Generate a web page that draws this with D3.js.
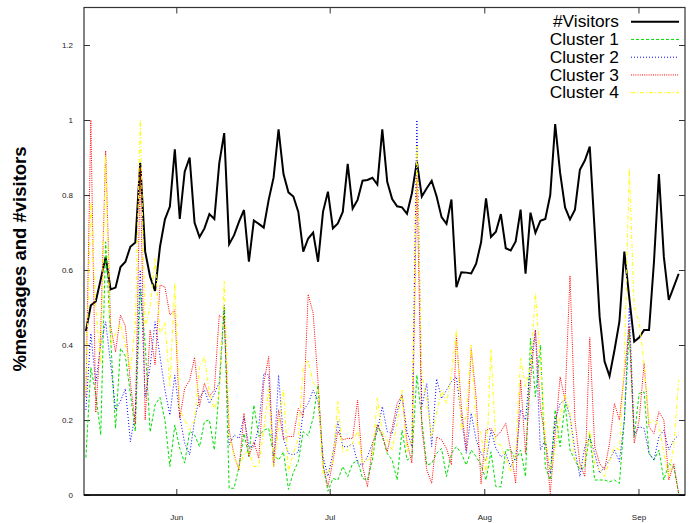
<!DOCTYPE html>
<html lang="en">
  <head>
    <meta charset="UTF-8" />
    <title>messages and visitors</title>
    <script src="https://d3js.org/d3.v7.min.js"></script>
    <style>
      body { margin: 0; background: #fff; }
      text { font-family: "Liberation Sans", Arial, sans-serif; }
      .tick text { font-size: 8px; fill: #222; }
      .tick line { stroke: #333; stroke-width: 1; }
      .series { fill: none; }
    </style>
  </head>
  <body>
    <svg id="canvas" width="693" height="523"></svg>

    <script>
      // daily values, first day = index 0
      const visitors = [0.437, 0.506, 0.516, 0.575, 0.634, 0.548, 0.553, 0.608, 0.622, 0.662,
        0.673, 0.886, 0.649, 0.582, 0.544, 0.662, 0.735, 0.769, 0.922, 0.736,
        0.862, 0.900, 0.726, 0.688, 0.711, 0.749, 0.736, 0.885, 0.965, 0.669,
        0.693, 0.729, 0.760, 0.622, 0.732, 0.723, 0.713, 0.787, 0.847, 0.975,
        0.856, 0.807, 0.796, 0.755, 0.649, 0.684, 0.700, 0.622, 0.755, 0.809,
        0.711, 0.724, 0.755, 0.883, 0.764, 0.787, 0.838, 0.840, 0.846, 0.828,
        0.975, 0.835, 0.789, 0.770, 0.767, 0.750, 0.805, 0.889, 0.796, 0.818,
        0.838, 0.796, 0.741, 0.723, 0.788, 0.554, 0.594, 0.593, 0.591, 0.617,
        0.674, 0.791, 0.688, 0.702, 0.749, 0.658, 0.652, 0.676, 0.761, 0.590,
        0.753, 0.699, 0.731, 0.736, 0.800, 0.989, 0.859, 0.767, 0.735, 0.761,
        0.867, 0.892, 0.929, 0.703, 0.475, 0.356, 0.317, 0.386, 0.462, 0.649,
        0.526, 0.409, 0.420, 0.440, 0.440, 0.622, 0.856, 0.635, 0.520, 0.555,
        0.590];

      const cluster1 = [0.10, 0.34, 0.27, 0.16, 0.675, 0.42, 0.178, 0.391, 0.37, 0.27,
        0.17, 0.55, 0.40, 0.168, 0.24, 0.26, 0.20, 0.076, 0.187, 0.124,
        0.085, 0.17, 0.16, 0.129, 0.196, 0.20, 0.12, 0.284, 0.50, 0.018,
        0.018, 0.076, 0.164, 0.102, 0.24, 0.156, 0.173, 0.178, 0.107, 0.093,
        0.115, 0.015, 0.06, 0.09, 0.169, 0.158, 0.205, 0.293, 0.08, 0.01,
        0.044, 0.04, 0.076, 0.049, 0.084, 0.093, 0.044, 0.04, 0.093, 0.187,
        0.156, 0.111, 0.093, 0.04, 0.173, 0.093, 0.102, 0.32, 0.20, 0.08,
        0.084, 0.111, 0.124, 0.049, 0.111, 0.129, 0.111, 0.08, 0.12, 0.102,
        0.08, 0.04, 0.115, 0.022, 0.022, 0.12, 0.12, 0.093, 0.12, 0.049,
        0.418, 0.262, 0.40, 0.075, 0.04, 0.227, 0.129, 0.244, 0.12, 0.093,
        0.067, 0.075, 0.164, 0.04, 0.04, 0.04, 0.035, 0.04, 0.031, 0.20,
        0.44, 0.155, 0.271, 0.275, 0.111, 0.093, 0.12, 0.04, 0.084, 0.075,
        0.004];

      const cluster2 = [0.227, 0.431, 0.298, 0.40, 0.462, 0.351, 0.227, 0.25, 0.284, 0.142,
        0.218, 0.60, 0.262, 0.342, 0.462, 0.37, 0.28, 0.213, 0.32, 0.21,
        0.138, 0.107, 0.20, 0.26, 0.28, 0.244, 0.27, 0.30, 0.507, 0.133,
        0.16, 0.151, 0.209, 0.129, 0.129, 0.182, 0.324, 0.32, 0.076, 0.32,
        0.15, 0.111, 0.107, 0.115, 0.225, 0.244, 0.28, 0.25, 0.102, 0.05,
        0.111, 0.196, 0.129, 0.129, 0.138, 0.085, 0.08, 0.102, 0.138, 0.169,
        0.236, 0.169, 0.164, 0.222, 0.267, 0.169, 0.129, 1.0, 0.236, 0.297,
        0.129, 0.31, 0.257, 0.28, 0.302, 0.316, 0.209, 0.111, 0.218, 0.147,
        0.111, 0.09, 0.173, 0.124, 0.102, 0.11, 0.075, 0.10, 0.227, 0.20,
        0.351, 0.44, 0.12, 0.147, 0.058, 0.20, 0.244, 0.253, 0.209, 0.12,
        0.049, 0.129, 0.155, 0.111, 0.058, 0.075, 0.093, 0.12, 0.089, 0.20,
        0.50, 0.16, 0.182, 0.178, 0.111, 0.093, 0.155, 0.173, 0.12, 0.147,
        0.16];

      const cluster3 = [0.262, 1.0, 0.22, 0.43, 0.918, 0.45, 0.382, 0.48, 0.45, 0.30,
        0.19, 0.875, 0.20, 0.44, 0.347, 0.56, 0.555, 0.48, 0.494, 0.204,
        0.284, 0.306, 0.367, 0.236, 0.298, 0.263, 0.28, 0.48, 0.467, 0.173,
        0.107, 0.067, 0.218, 0.102, 0.142, 0.098, 0.298, 0.369, 0.076, 0.227,
        0.15, 0.156, 0.156, 0.231, 0.21, 0.535, 0.485, 0.30, 0.08, 0.022,
        0.09, 0.17, 0.147, 0.151, 0.151, 0.253, 0.076, 0.022, 0.129, 0.187,
        0.16, 0.115, 0.178, 0.244, 0.267, 0.142, 0.085, 0.85, 0.18, 0.067,
        0.031, 0.155, 0.147, 0.124, 0.08, 0.426, 0.235, 0.12, 0.391, 0.26,
        0.03, 0.173, 0.178, 0.155, 0.169, 0.191, 0.12, 0.031, 0.307, 0.111,
        0.307, 0.44, 0.235, 0.147, 0.004, 0.164, 0.315, 0.253, 0.585, 0.20,
        0.084, 0.049, 0.42, 0.129, 0.084, 0.067, 0.138, 0.244, 0.20, 0.324,
        0.45, 0.138, 0.20, 0.351, 0.182, 0.164, 0.222, 0.20, 0.04, 0.084,
        0.004];

      const cluster4 = [0.28, 0.78, 0.50, 0.35, 0.905, 0.40, 0.43, 0.458, 0.40, 0.333,
        0.45, 1.0, 0.45, 0.50, 0.63, 0.43, 0.46, 0.29, 0.565, 0.227,
        0.20, 0.173, 0.20, 0.34, 0.37, 0.27, 0.227, 0.27, 0.57, 0.164,
        0.102, 0.071, 0.11, 0.115, 0.076, 0.076, 0.173, 0.284, 0.076, 0.18,
        0.28, 0.062, 0.111, 0.15, 0.342, 0.36, 0.30, 0.28, 0.058, 0.058,
        0.09, 0.25, 0.115, 0.12, 0.138, 0.173, 0.085, 0.093, 0.102, 0.258,
        0.169, 0.147, 0.12, 0.191, 0.28, 0.115, 0.147, 0.93, 0.324, 0.25,
        0.155, 0.22, 0.28, 0.244, 0.324, 0.44, 0.173, 0.21, 0.40, 0.19,
        0.164, 0.06, 0.387, 0.138, 0.133, 0.10, 0.062, 0.111, 0.364, 0.289,
        0.342, 0.538, 0.36, 0.147, 0.067, 0.12, 0.209, 0.267, 0.218, 0.093,
        0.075, 0.093, 0.173, 0.08, 0.067, 0.049, 0.09, 0.129, 0.12, 0.35,
        0.87, 0.50, 0.462, 0.35, 0.19, 0.20, 0.187, 0.111, 0.049, 0.129,
        0.307];

      const seriesNames = ["#Visitors", "Cluster 1", "Cluster 2", "Cluster 3", "Cluster 4"];
      const monthTicks = [18.3, 49.35, 80.65, 111.86]; // in day index
      const monthLabels = ["Jun", "Jul", "Aug", "Sep"];
      const yTicks = [0, 0.2, 0.4, 0.6, 0.8, 1, 1.2];

      const plotL = 84, plotR = 685, plotT = 7.5, plotB = 495;
      const svg = d3.select("#canvas");

      const x = d3.scaleLinear().domain([-0.385, 121.28]).range([plotL, plotR]);
      const y = d3.scaleLinear().domain([0, 1.3]).range([plotB, plotT]);

      // axes, ticks pointing inside like gnuplot
      svg.append("g")
        .attr("transform", `translate(${plotL},0)`)
        .call(d3.axisLeft(y).tickValues(yTicks).tickSize(-6).tickPadding(11).tickFormat(d3.format("~g")))
        .call((g) => g.select(".domain").remove());
      svg.append("g")
        .attr("transform", `translate(${plotR},0)`)
        .call(d3.axisRight(y).tickValues(yTicks).tickSize(-6).tickFormat(""))
        .call((g) => g.select(".domain").remove());
      svg.append("g")
        .attr("transform", `translate(0,${plotB})`)
        .call(d3.axisBottom(x).tickValues(monthTicks).tickSize(-6).tickPadding(19)
          .tickFormat((d, i) => monthLabels[i]))
        .call((g) => g.select(".domain").remove());
      svg.append("g")
        .attr("transform", `translate(0,${plotT})`)
        .call(d3.axisTop(x).tickValues(monthTicks).tickSize(-6).tickFormat(""))
        .call((g) => g.select(".domain").remove());

      // border
      svg.append("rect")
        .attr("x", plotL).attr("y", plotT)
        .attr("width", plotR - plotL).attr("height", plotB - plotT)
        .attr("fill", "none").attr("stroke", "#333").attr("stroke-width", 1.2);
      svg.append("line")
        .attr("x1", plotL).attr("x2", plotR).attr("y1", plotB).attr("y2", plotB)
        .attr("stroke", "#000").attr("stroke-width", 1.5);

      // y title
      svg.append("text")
        .attr("transform", "translate(26,259) rotate(-90)")
        .attr("text-anchor", "middle")
        .attr("font-size", 18.5)
        .attr("font-weight", "bold")
        .text("%messages and #visitors");

      const styles = [
        { data: visitors, color: "#000", width: 2, dash: null },
        { data: cluster1, color: "#00e000", width: 1, dash: "3,2" },
        { data: cluster2, color: "#0000ff", width: 1, dash: "1,2" },
        { data: cluster3, color: "#ff0000", width: 1, dash: "1,1.2" },
        { data: cluster4, color: "#ffff00", width: 1, dash: "4,2,1,2" },
      ];

      const line = d3.line().x((d, i) => x(i)).y((d) => y(d));

      styles.forEach((s) => {
        svg.append("path")
          .attr("class", "series")
          .attr("d", line(s.data))
          .attr("stroke", s.color)
          .attr("stroke-width", s.width)
          .attr("stroke-linejoin", "miter")
          .attr("stroke-dasharray", s.dash);
      });

      // legend (slightly widened glyphs so rows do not collide)
      const legend = svg.append("g");
      styles.forEach((s, i) => {
        const ly = 21.7 + i * 17.75;
        const t = legend.append("text")
          .attr("x", 619).attr("y", ly)
          .attr("dy", "0.36em")
          .attr("text-anchor", "end")
          .attr("font-size", 15.6)
          .text(seriesNames[i]);
        const w = t.node().getComputedTextLength();
        t.attr("textLength", w * 1.11).attr("lengthAdjust", "spacingAndGlyphs");
        legend.append("line")
          .attr("x1", 631).attr("x2", 679)
          .attr("y1", ly).attr("y2", ly)
          .attr("stroke", s.color)
          .attr("stroke-width", s.width)
          .attr("stroke-dasharray", s.dash);
      });
    </script>
  </body>
</html>
